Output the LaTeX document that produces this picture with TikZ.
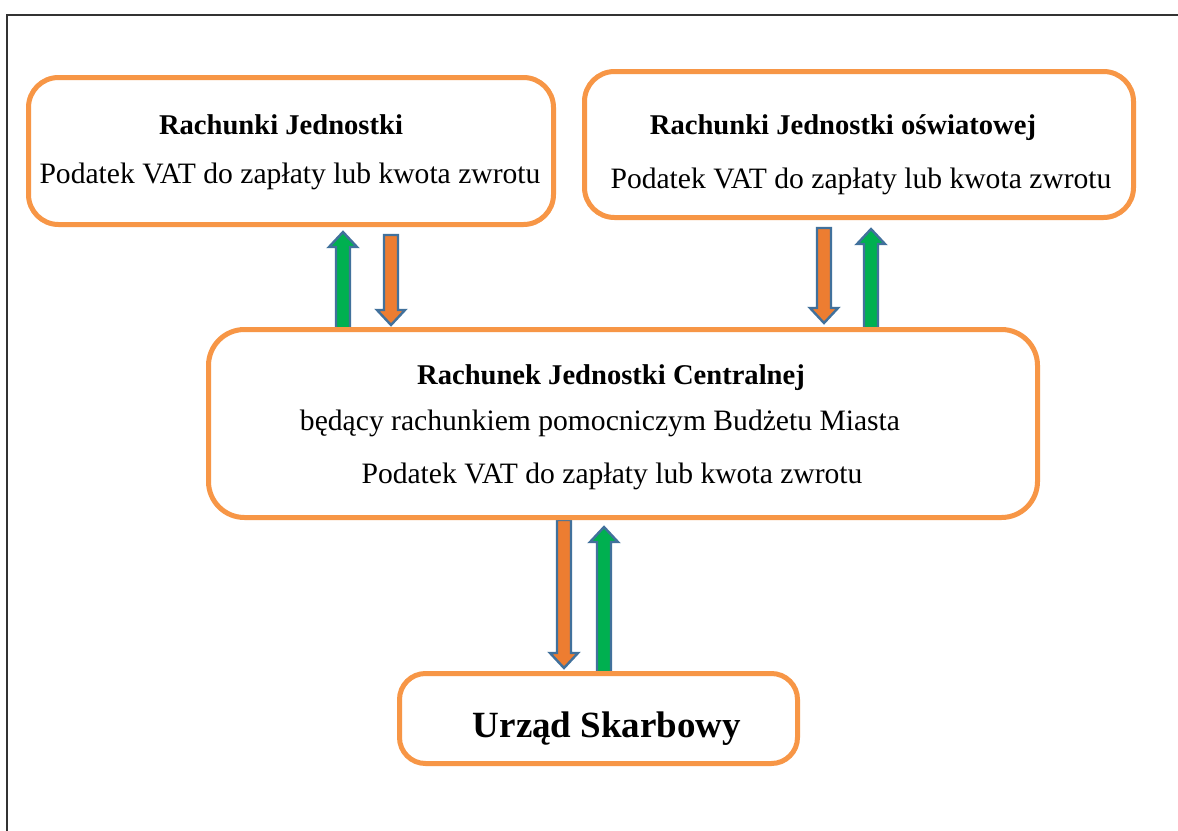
\documentclass[tikz,border=0pt]{standalone}
\usepackage{fontspec}
\setmainfont{Liberation Serif}
\definecolor{boxorange}{RGB}{247,150,70}
\definecolor{arrgreen}{RGB}{0,176,80}
\definecolor{arrorange}{RGB}{237,125,49}
\definecolor{arredge}{RGB}{65,113,156}
\newcommand\blkup[4]{\filldraw[arrowline, fill=#4] ({#1-7},#2) -- ({#1-7},{#3+15}) -- ({#1-14},{#3+15}) -- (#1,#3) -- ({#1+14},{#3+15}) -- ({#1+7},{#3+15}) -- ({#1+7},#2) -- cycle;}
\newcommand\blkdown[4]{\filldraw[arrowline, fill=#4] ({#1-7},#2) -- ({#1-7},{#3-15}) -- ({#1-14},{#3-15}) -- (#1,#3) -- ({#1+14},{#3-15}) -- ({#1+7},{#3-15}) -- ({#1+7},#2) -- cycle;}
\begin{document}
\begin{tikzpicture}[x=1pt,y=-1pt,
  box/.style={draw=boxorange, line width=5pt, fill=white, rounded corners=#1, inner sep=0pt},
  box/.default=30pt,
  arrowline/.style={draw=arredge, line width=2.4pt, line join=miter},
  txt/.style={font=\fontsize{29.6}{34}\selectfont, anchor=base, inner sep=0pt},
  ttl/.style={font=\fontsize{28.6}{34}\selectfont\bfseries, anchor=base, inner sep=0pt}]
\useasboundingbox (0,0) rectangle (1178,830);
\fill[white] (0,0) rectangle (1178,830);
\draw[line width=1.8pt, black!80] (7,835) -- (7,15) -- (1183,15);
% block arrows
\blkup{343}{330}{232}{arrgreen}
\blkdown{391}{235}{325}{arrorange}
\blkdown{824}{228}{323}{arrorange}
\blkup{871}{328}{229}{arrgreen}
\blkdown{564}{520}{668}{arrorange}
\blkup{604}{672}{527}{arrgreen}
% boxes
\node[box, minimum width=525pt, minimum height=147pt] (b1) at (291,151) {};
\node[box, minimum width=549pt, minimum height=146pt] (b2) at (859,144.5) {};
\node[box=36pt, minimum width=829pt, minimum height=188pt] (b3) at (623,423.5) {};
\node[box=26pt, minimum width=398pt, minimum height=90pt] (b4) at (598.5,718.5) {};
% texts
\node[ttl] (t1a) at (281,134) {Rachunki Jednostki};
\node[txt] (t1b) at (290,183) {Podatek VAT do zapłaty lub kwota zwrotu};
\node[ttl] (t2a) at (843,134) {Rachunki Jednostki oświatowej};
\node[txt] (t2b) at (861,188) {Podatek VAT do zapłaty lub kwota zwrotu};
\node[ttl] (t3a) at (611,384) {Rachunek Jednostki Centralnej};
\node[txt] (t3b) at (600,430) {będący rachunkiem pomocniczym Budżetu Miasta};
\node[txt] (t3c) at (612,483) {Podatek VAT do zapłaty lub kwota zwrotu};
\node[ttl, font=\fontsize{37}{42}\selectfont\bfseries] (t4) at (607,737) {Urząd Skarbowy};
\end{tikzpicture}
\end{document}
